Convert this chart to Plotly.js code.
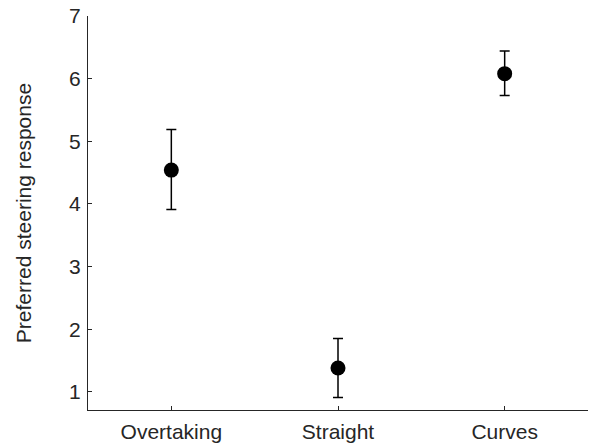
<!DOCTYPE html>
<html>
<head>
<meta charset="utf-8">
<script src="https://cdn.plot.ly/plotly-3.0.1.min.js"></script>
<style>
  html, body { margin: 0; padding: 0; background: #fff; }
  #chart { width: 597px; height: 448px; }
</style>
</head>
<body>
<div id="chart"></div>
<script>
// Mean preferred steering response per scenario, with error bar limits
const conditions = ["Overtaking", "Straight", "Curves"];
const meanResponse = [4.54, 1.38, 6.08];
const upperLimit = [5.19, 1.85, 6.44];
const lowerLimit = [3.91, 0.91, 5.73];

const errPlus = meanResponse.map((m, i) => upperLimit[i] - m);
const errMinus = meanResponse.map((m, i) => m - lowerLimit[i]);

const axisColor = "#262626";
const fontFamily = "Liberation Sans, Arial, Helvetica, sans-serif";

const trace = {
  x: conditions,
  y: meanResponse,
  type: "scatter",
  mode: "markers",
  marker: { color: "#000", size: 15 },
  error_y: {
    type: "data",
    symmetric: false,
    array: errPlus,
    arrayminus: errMinus,
    color: "#000",
    thickness: 1.5,
    width: 5
  },
  hoverinfo: "skip"
};

const layout = {
  width: 597,
  height: 448,
  margin: { l: 88, r: 9, t: 16, b: 38 },
  paper_bgcolor: "#fff",
  plot_bgcolor: "#fff",
  showlegend: false,
  font: { family: fontFamily, color: axisColor, size: 21 },
  xaxis: {
    type: "category",
    range: [-0.5, 2.5],
    showgrid: false,
    zeroline: false,
    showline: true,
    linecolor: axisColor,
    linewidth: 1,
    ticks: "inside",
    ticklen: 4,
    tickcolor: axisColor,
    tickfont: { size: 21, color: axisColor },
    ticklabelstandoff: 3
  },
  yaxis: {
    range: [0.71, 7],
    tickvals: [1, 2, 3, 4, 5, 6, 7],
    showgrid: false,
    zeroline: false,
    showline: true,
    linecolor: axisColor,
    linewidth: 1,
    ticks: "inside",
    ticklen: 4,
    tickcolor: axisColor,
    tickfont: { size: 21, color: axisColor },
    ticklabelstandoff: 2,
    title: {
      text: "Preferred steering response",
      font: { size: 21, color: axisColor },
      standoff: 31
    }
  }
};

Plotly.newPlot("chart", [trace], layout, { displayModeBar: false, staticPlot: true });
</script>
</body>
</html>
